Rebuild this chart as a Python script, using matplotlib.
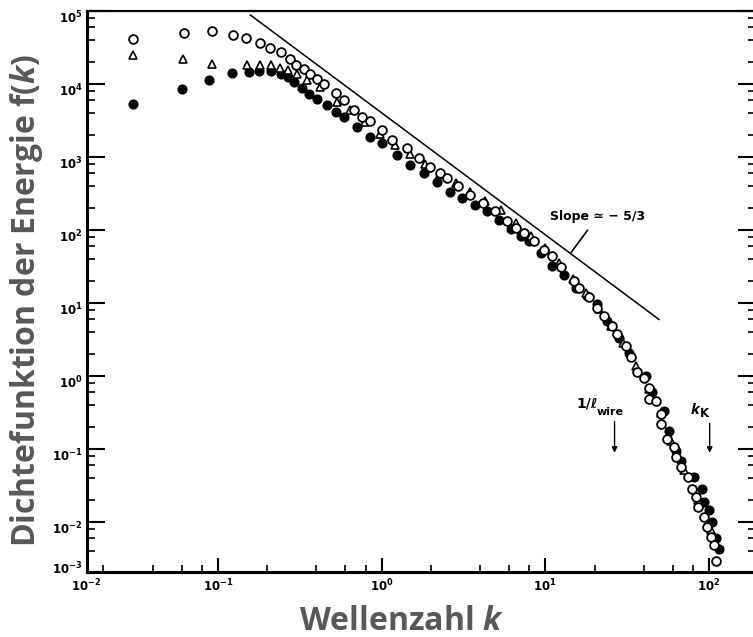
import numpy as np
import matplotlib
matplotlib.use('Agg')
import matplotlib.pyplot as plt
from matplotlib.ticker import LogLocator, NullFormatter, FixedLocator
from matplotlib.transforms import ScaledTranslation

# open circles
circ_k = [0.0305, 0.0625, 0.0918, 0.1236, 0.149, 0.1815, 0.209, 0.243, 0.274, 0.301,
          0.334, 0.367, 0.404, 0.443, 0.530, 0.586, 0.675, 0.760, 0.855, 1.007,
          1.16, 1.43, 1.69, 1.99, 2.29, 2.52, 2.95, 3.49, 4.14, 4.90,
          5.80, 6.58, 7.39, 8.51, 9.80, 11.0, 12.4, 15.0, 16.0, 18.5,
          20.8, 22.8, 25.7, 27.5, 31.0, 33.2, 36.5, 40.1, 43.0, 43.0,
          47.3, 50.7, 50.7, 55.7, 61.2, 62.7, 67.3, 74.0, 79.3, 83.0,
          85.1, 93.3, 97.9, 102.6, 107.5, 110.1]
circ_f = [40400, 49600, 52400, 47200, 42000, 35600, 30700, 27000, 21900, 18200,
          16000, 13700, 11500, 9800, 7540, 5940, 4340, 3520, 3100, 2310,
          1720, 1300, 948, 731, 605, 506, 391, 303, 236, 178,
          130, 107, 90, 69, 53.3, 43.2, 30.6, 19.7, 16.0, 11.9,
          8.5, 6.56, 4.80, 3.69, 2.56, 1.81, 1.11, 0.945, 0.69, 0.48,
          0.455, 0.30, 0.219, 0.137, 0.105, 0.0766, 0.056, 0.0408, 0.0284, 0.0218,
          0.0159, 0.0116, 0.0085, 0.0062, 0.00478, 0.00292]

# open triangles
tri_k = [0.0305, 0.0611, 0.0918, 0.150, 0.180, 0.212, 0.240, 0.270, 0.304, 0.350,
         0.423, 0.535, 0.644, 0.796, 0.984, 1.21, 1.50, 1.85, 2.29, 2.83,
         3.49, 4.31, 5.33, 6.58, 8.13, 10.0, 12.1, 14.7, 17.7, 21.2,
         25.1, 29.7, 35.7, 42.8, 50.7, 58.3, 70.1, 85.3, 102.6]
tri_f = [24400, 21900, 18400, 17800, 17800, 17800, 16500, 15200, 13700, 11100,
         9020, 5620, 4380, 3000, 2060, 1460, 1100, 803, 586, 442,
         333, 251, 189, 122, 81, 55.6, 34.7, 21.0, 13.5, 8.18,
         4.80, 2.81, 1.37, 0.662, 0.312, 0.129, 0.0505, 0.0197, 0.0077]

# filled circles
dot_k = [0.0305, 0.0607, 0.0885, 0.122, 0.154, 0.1795, 0.212, 0.243, 0.270, 0.293,
         0.327, 0.358, 0.403, 0.465, 0.530, 0.586, 0.708, 0.855, 1.007, 1.245,
         1.50, 1.81, 2.18, 2.63, 3.12, 3.70, 4.38, 5.18, 6.14, 7.07,
         7.94, 9.36, 11.0, 13.0, 15.3, 18.1, 20.8, 23.9, 28.2, 32.3,
         41.0, 45.1, 53.1, 56.8, 62.7, 67.3, 81.1, 91.2, 93.3, 100.2,
         105.0, 110.1, 115.3]
dot_f = [5240, 8550, 11120, 14000, 14450, 14900, 14900, 13700, 12300, 10550,
         8730, 7310, 6240, 5070, 4110, 3520, 2560, 1875, 1520, 1054,
         771, 592, 456, 333, 276, 221, 178, 138, 101, 81,
         69, 48, 31.6, 24.3, 16.0, 12.3, 9.5, 5.61, 3.32, 2.05,
         1.0, 0.59, 0.332, 0.177, 0.0946, 0.069, 0.0408, 0.0284, 0.0186, 0.0143,
         0.0099, 0.0059, 0.0043]

# -5/3 reference line end points
slope_k = [0.158, 49.5]
slope_f = [87300, 5.9]

xlim = (0.0158, 194)
ylim = (2.07e-3, 1e5)
xmajor = [0.0158, 0.1, 1, 10, 100]
xlabels = ['$\\mathbf{10^{-2}}$', '$\\mathbf{10^{-1}}$', '$\\mathbf{10^{0}}$',
           '$\\mathbf{10^{1}}$', '$\\mathbf{10^{2}}$']
ymajor = [2.07e-3, 1e-2, 1e-1, 1, 10, 100, 1e3, 1e4, 1e5]
ylabels = ['$\\mathbf{10^{-3}}$', '$\\mathbf{10^{-2}}$', '$\\mathbf{10^{-1}}$',
           '$\\mathbf{10^{0}}$', '$\\mathbf{10^{1}}$', '$\\mathbf{10^{2}}$',
           '$\\mathbf{10^{3}}$', '$\\mathbf{10^{4}}$', '$\\mathbf{10^{5}}$']

plt.rcParams['mathtext.fontset'] = 'custom'
plt.rcParams['mathtext.it'] = 'Open Sans:italic:bold'
plt.rcParams['mathtext.bf'] = 'DejaVu Sans:bold'
plt.rcParams['mathtext.rm'] = 'DejaVu Sans'

fig = plt.figure(figsize=(7.53, 6.37), dpi=100)
ax = fig.add_axes([0.1151, 0.1025, 0.889, 0.8807])
ax.set_xscale('log')
ax.set_yscale('log')
ax.set_xlim(*xlim)
ax.set_ylim(*ylim)

ax.plot(slope_k, slope_f, color='black', lw=1.1)
ax.plot(dot_k, dot_f, 'o', ms=6.3, mfc='black', mec='black', mew=1.0, ls='none')
ax.plot(tri_k, tri_f, '^', ms=6.3, mfc='white', mec='black', mew=1.2, ls='none')
ax.plot(circ_k, circ_f, 'o', ms=6.3, mfc='white', mec='black', mew=1.3, ls='none')

ax.annotate('Slope \u2243 \u2212 5/3', xy=(14.4, 49), xytext=(20.9, 152),
            ha='center', va='center', fontsize=9, fontweight='bold',
            arrowprops=dict(arrowstyle='-', lw=1.2, color='black', shrinkA=4, shrinkB=0))

ax.text(17.9, 0.414, '1/\u2113', fontsize=10, fontweight='bold', ha='center', va='center')
ax.text(24.9, 0.321, 'wire', fontsize=8, fontweight='bold', ha='center', va='center')
ax.annotate('', xy=(26.5, 0.0807), xytext=(26.5, 0.258),
            arrowprops=dict(arrowstyle='-|>', lw=1.0, color='black', mutation_scale=8))
ax.text(83.0, 0.35, '$k$', fontsize=11, ha='center', va='center')
ax.text(94.0, 0.30, 'K', fontsize=8.5, fontweight='bold', ha='center', va='center')
ax.annotate('', xy=(101, 0.0807), xytext=(101, 0.243),
            arrowprops=dict(arrowstyle='-|>', lw=1.0, color='black', mutation_scale=8))

ax.xaxis.set_major_locator(FixedLocator(xmajor))
ax.set_xticklabels(xlabels)
ax.yaxis.set_major_locator(FixedLocator(ymajor))
ax.set_yticklabels(ylabels)
ax.xaxis.set_minor_locator(LogLocator(base=10, subs=(2, 4, 6, 8)))
ax.yaxis.set_minor_locator(LogLocator(base=10, subs=(2, 4, 6, 8)))
ax.xaxis.set_minor_formatter(NullFormatter())
ax.yaxis.set_minor_formatter(NullFormatter())

ax.tick_params(axis='y', which='major', direction='in', length=13, width=1.5,
               left=True, right=True, labelsize=8.5, pad=3)
ax.tick_params(axis='y', which='minor', direction='in', length=6, width=1.2,
               left=True, right=True)
ax.tick_params(axis='x', which='major', direction='in', length=10, width=1.5,
               top=False, labelsize=8.5, pad=4)
ax.tick_params(axis='x', which='minor', direction='in', length=5, width=1.2, top=False)

ylabs = ax.get_yticklabels()
for i, lab in enumerate(ylabs):
    dy = 3 / 72 if i == 0 else -4 / 72
    lab.set_transform(lab.get_transform() + ScaledTranslation(0, dy, fig.dpi_scale_trans))

for side in ['left', 'bottom']:
    ax.spines[side].set_linewidth(2.2)
ax.spines['top'].set_linewidth(1.6)
ax.spines['right'].set_linewidth(1.6)

label_color = '#585858'
fig.text(402 / 753, 1 - 621 / 637, 'Wellenzahl $k$', fontsize=23, fontweight='bold',
         family='Open Sans', color=label_color, ha='center', va='center')
fig.text(27 / 753, 1 - 300 / 637, 'Dichtefunktion der Energie f($k$)', fontsize=23,
         fontweight='bold', family='Open Sans', color=label_color,
         rotation=90, ha='center', va='center')

fig.savefig('out.png', dpi=100)
